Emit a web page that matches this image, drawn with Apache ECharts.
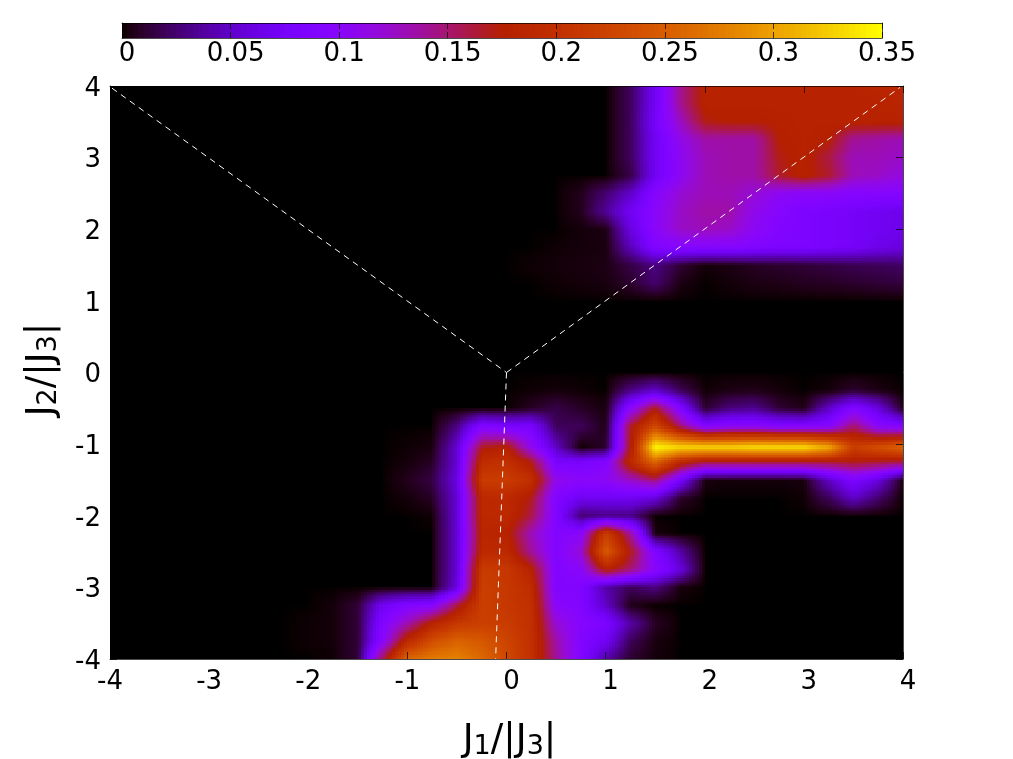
<!DOCTYPE html>
<html><head><meta charset="utf-8">
<style>html,body{margin:0;padding:0;background:#fff}#c{width:1013px;height:759px}</style>
<script src="https://cdn.jsdelivr.net/npm/echarts@6/dist/echarts.min.js"></script>
</head><body><div id="c"></div>
<script>
const Z8=[0,0,0,0,0,0,0,0];
const Z9=[0,0,0,0,0,0,0,0,0];
const xNodes=[-4,-3.75,-3.5,-3.25,-3,-2.75,-2.5,-2.25,-2,-1.75,-1.5,-1.25,-1,-0.75,-0.5,-0.25,0,0.25,0.5,0.75,1,1.25,1.5,1.75,2,2.25,2.5,2.75,3,3.25,3.5,3.75,4];
const yNodes=[4,3.75,3.5,3.25,3,2.75,2.5,2.25,2,1.75,1.5,1.25,1,0.75,0.5,0.25,0,-0.25,-0.5,-0.75,-1.05,-1.25,-1.5,-1.75,-2,-2.25,-2.5,-2.75,-3,-3.25,-3.5,-3.75,-4];
const L0=[...Z8,...Z8,...Z8,...Z9];
const r_p400=[...Z8,...Z8,0,0,0,0,0,.02,.07,.14,.18,.18,.18,.18,.18,.18,.18,.185,.185];
const r_p375=[...Z8,...Z8,0,0,0,0,0,.02,.07,.14,.18,.18,.18,.18,.18,.18,.18,.18,.185];
const r_p350=[...Z8,...Z8,0,0,0,0,0,.02,.075,.125,.17,.175,.175,.178,.18,.18,.18,.18,.18];
const r_p325=[...Z8,...Z8,0,0,0,0,0,.02,.07,.11,.135,.135,.135,.175,.18,.175,.14,.135,.13];
const r_p300=[...Z8,...Z8,0,0,0,0,0,.02,.07,.105,.13,.135,.135,.17,.18,.16,.13,.13,.125];
const r_p275=[...Z8,...Z8,0,0,0,0,0,.015,.07,.105,.13,.135,.135,.165,.18,.165,.13,.125,.115];
const r_p250=[...Z8,...Z8,0,0,0,.006,.025,.05,.095,.12,.13,.13,.12,.105,.1,.1,.095,.095,.095];
const r_p225=[...Z8,...Z8,0,0,0,.006,.035,.07,.1,.125,.135,.135,.11,.095,.085,.08,.075,.07,.065];
const r_p200=[...Z8,...Z8,0,0,0,.002,.004,.06,.1,.125,.13,.125,.105,.09,.085,.08,.075,.07,.065];
const r_p175=[...Z8,...Z8,0,0,.001,.002,.003,.045,.09,.095,.095,.095,.09,.085,.085,.08,.075,.065,.06];
const r_p150=[...Z8,...Z8,0,.001,.002,.003,.004,.015,.03,.012,.002,.004,.008,.01,.012,.015,.018,.02,.022];
const r_p125=[...Z8,...Z8,0,0,.001,.002,.003,.01,.025,.004,0,.002,.004,.005,.007,.008,.01,.012,.014];
const r_m025=[...Z8,...Z8,0,.001,.002,.001,0,.03,.05,.02,.001,.004,.005,.002,0,.002,.01,.004,0];
const r_m050=[...Z8,...Z8,0,.008,.016,.008,.003,.1,.17,.09,.01,.028,.033,.012,.005,.05,.09,.06,.005];
const r_m075=[...Z8,0,0,0,0,0,0,.03,.09,.08,.08,.02,.02,.005,.165,.23,.15,.09,.1,.1,.09,.09,.095,.15,.1,.09];
const r_m100=[...Z8,0,0,0,0,.001,.003,.055,.17,.18,.11,.05,0,.01,.17,.35,.335,.335,.335,.34,.34,.34,.31,.22,.24,.26];
const r_m125=[...Z8,0,0,0,0,.002,.008,.055,.195,.2,.17,.08,.08,.09,.19,.26,.19,.165,.165,.165,.165,.165,.165,.17,.165,.16];
const r_m150=[...Z8,0,0,0,0,.006,.015,.06,.215,.215,.2,.11,.1,.105,.125,.15,.08,.003,.002,.002,.002,.003,.05,.085,.06,.003];
const r_m175=[...Z8,0,0,0,0,.002,.008,.055,.19,.19,.17,.09,.07,.07,.07,.06,.01,0,0,0,0,.001,.02,.05,.025,0];
const r_m200=[...Z8,0,0,0,0,0,.001,.055,.19,.19,.16,.09,.025,.03,.03,0,0,0,0,0,0,0,0,0,0,0];
const r_m225=[...Z8,0,0,0,0,0,0,.055,.185,.18,.13,.09,.1,.22,.14,.003,0,...Z9];
const r_m250=[...Z8,0,0,0,0,0,0,.055,.19,.19,.14,.09,.12,.25,.17,.09,.04,...Z9];
const r_m275=[...Z8,0,0,0,0,0,0,.055,.215,.21,.18,.09,.1,.18,.15,.1,.06,...Z9];
const r_m300=[...Z8,0,0,0,0,0,0,.06,.22,.21,.195,.09,.09,.04,.02,.03,.003,...Z9];
const r_m325=[...Z8,0,.002,.012,.07,.09,.095,.16,.22,.21,.2,.1,.09,.05,.005,0,0,...Z9];
const r_m350=[...Z8,.001,.002,.012,.09,.13,.18,.21,.22,.215,.2,.12,.095,.085,.04,.008,0,...Z9];
const r_m375=[...Z8,.001,.002,.012,.1,.19,.235,.255,.245,.225,.2,.135,.09,.07,.02,.003,0,...Z9];
const r_m400=[...Z8,0,.001,.012,.16,.26,.275,.28,.26,.23,.2,.14,.09,.04,.01,.002,0,...Z9];
const rows=[r_p400,r_p375,r_p350,r_p325,r_p300,r_p275,r_p250,r_p225,r_p200,r_p175,r_p150,r_p125,L0,L0,L0,L0,L0,r_m025,r_m050,r_m075,r_m100,r_m125,r_m150,r_m175,r_m200,r_m225,r_m250,r_m275,r_m300,r_m325,r_m350,r_m375,r_m400];
const lineUpperLeft=[[-3.98,3.97],[0,0]];
const lineUpperRight=[[0,0],[3.97,3.98]];
const lineLower=[[0,0],[-0.11,-4]];
const barLevels=[];
for(let i=0;i<140;i++)barLevels.push(i*0.0025);

const vMax=0.35;
function pal(v){
  const t=Math.max(0,Math.min(1,v/vMax));
  const c=x=>Math.round(255*Math.max(0,Math.min(1,x)));
  return 'rgb('+c(Math.sqrt(t))+','+c(t*t*t)+','+c(Math.sin(2*Math.PI*t))+')';
}
const cells=[];
for(let j=0;j<32;j++)for(let i=0;i<32;i++)cells.push([i,j]);
const SUB=8;
function renderCell(params,api){
  const i=api.value(0),j=api.value(1);
  const a=rows[j][i],b=rows[j][i+1],c=rows[j+1][i],d=rows[j+1][i+1];
  const kids=[];
  const n=(a===0&&b===0&&c===0&&d===0)?1:SUB;
  const dx=xNodes[i+1]-xNodes[i],dy=yNodes[j+1]-yNodes[j];
  for(let p=0;p<n;p++)for(let q=0;q<n;q++){
    const u0=p/n,u1=(p+1)/n,w0=q/n,w1=(q+1)/n,um=(u0+u1)/2,wm=(w0+w1)/2;
    const v=(a*(1-um)+b*um)*(1-wm)+(c*(1-um)+d*um)*wm;
    const tl=api.coord([xNodes[i]+u0*dx,yNodes[j]+w0*dy]);
    const br=api.coord([xNodes[i]+u1*dx,yNodes[j]+w1*dy]);
    const x0=Math.round(tl[0]),y0=Math.round(tl[1]),x1=Math.round(br[0]),y1=Math.round(br[1]);
    if(x1>x0&&y1>y0)kids.push({type:'rect',shape:{x:x0,y:y0,width:x1-x0,height:y1-y0},style:{fill:pal(v)},silent:true});
  }
  return {type:'group',children:kids};
}
function renderBar(params,api){
  const v=api.value(0);
  const a=api.coord([v,0]),b=api.coord([v+0.0025,1]);
  const x0=Math.round(a[0]),x1=Math.round(b[0]);
  return {type:'rect',shape:{x:x0,y:b[1],width:x1-x0,height:a[1]-b[1]},style:{fill:pal(v+0.00125)},silent:true};
}
const FONT='DejaVu Sans';
const edge='rgba(0,0,0,0.7)';
const lineStyle={color:edge,width:1};
function tickLabel(v){return Number(v)<0?'{n|'+v+'}':'{p|'+v+'}';}
const tickRich={n:{fontSize:26,fontFamily:FONT,color:'#000'},p:{fontSize:26,fontFamily:FONT,color:'#000',padding:[0,0,0,10]}};
function plain(pos,idx,min,max,iv,extra){
  return Object.assign({type:'value',gridIndex:idx,position:pos,min:min,max:max,interval:iv,z:5,
    splitLine:{show:false},axisLine:{show:true,onZero:false,lineStyle:lineStyle},
    axisTick:{show:true,inside:true,length:7,lineStyle:lineStyle},axisLabel:{show:false}},extra||{});
}
const m={fontSize:37,fontFamily:FONT,color:'#000'};
const s={fontSize:27,fontFamily:FONT,color:'#000',verticalAlign:'bottom',padding:[12,0,0,0]};
const opt={
  animation:false,backgroundColor:'#fff',
  grid:[{left:110,right:110,top:86,height:573,show:true,backgroundColor:'#000',borderWidth:0,outerBoundsMode:'none'},
        {left:122,right:131,top:23,height:15,outerBoundsMode:'none'}],
  xAxis:[
    plain('bottom',0,-4,4,1,{axisLabel:{show:true,margin:10,formatter:tickLabel,rich:tickRich},
      name:'{m|J}{s|1}{m|/|J}{s|3}{m||}',nameLocation:'middle',nameGap:62,
      nameTextStyle:{rich:{m:m,s:s},padding:[0,0,0,6]}}),
    plain('top',0,-4,4,1),
    plain('bottom',1,0,0.35,0.05,{axisTick:{show:true,inside:true,length:6,lineStyle:lineStyle},
      axisLabel:{show:true,margin:3,formatter:tickLabel,rich:tickRich}}),
    plain('top',1,0,0.35,0.05,{axisTick:{show:true,inside:true,length:6,lineStyle:lineStyle}})
  ],
  yAxis:[
    plain('left',0,-4,4,1,{axisLabel:{show:true,margin:9,formatter:v=>'{y|'+v+'}',
        rich:{y:{fontSize:26,fontFamily:FONT,color:'#000',padding:[6,0,0,0]}}},
      name:'{m|J}{s|2}{m|/|J}{s|3}{m||}',nameLocation:'middle',nameGap:48,nameRotate:90,
      nameTextStyle:{rich:{m:m,s:s},padding:[0,0,0,6]}}),
    plain('right',0,-4,4,1),
    plain('left',1,0,1,1,{axisTick:{show:false}}),
    plain('right',1,0,1,1,{axisTick:{show:false}})
  ],
  series:[
    {type:'custom',xAxisIndex:0,yAxisIndex:0,data:cells,renderItem:renderCell,z:1,silent:true,clip:true,encode:{x:0,y:1}},
    {type:'custom',xAxisIndex:2,yAxisIndex:2,data:barLevels.map(v=>[v]),renderItem:renderBar,z:1,silent:true,encode:{x:0}}
  ].concat([lineUpperLeft,lineUpperRight,lineLower].map(d=>({
    type:'line',xAxisIndex:0,yAxisIndex:0,data:d,symbol:'none',silent:true,z:6,
    lineStyle:{color:'#fff',width:1,type:[6,5]}})))
};
echarts.init(document.getElementById('c')).setOption(opt);
</script></body></html>
